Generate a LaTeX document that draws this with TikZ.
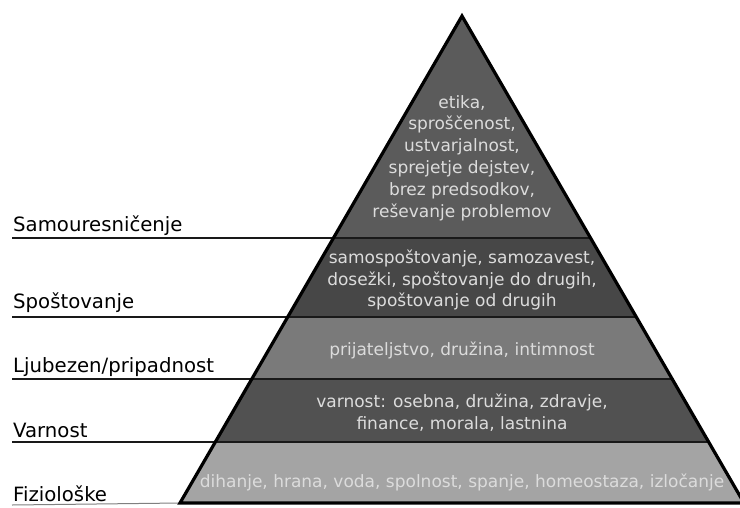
\documentclass[tikz,border=0pt]{standalone}
\usepackage{fontspec}
\setmainfont{DejaVu Sans}
\usetikzlibrary{calc, positioning}

\definecolor{topgray}{HTML}{5B5B5B}
\definecolor{esteemgray}{HTML}{474747}
\definecolor{lovegray}{HTML}{7A7A7A}
\definecolor{safegray}{HTML}{515151}
\definecolor{basegray}{HTML}{A4A4A4}
\definecolor{textgray}{HTML}{DCDCDC}

\begin{document}
\begin{tikzpicture}[
    x=1pt, y=-1pt,
    level/.style={draw=black!90, line width=1.6pt},
    lbl/.style={anchor=base west, inner sep=0pt, font=\fontsize{19.7}{23}\selectfont},
    inside/.style={align=center, text=textgray, inner sep=0pt, font=\fontsize{17}{21.8}\selectfont},
    outline/.style={draw=black, line width=3.2pt, line join=miter}
]
   \useasboundingbox (0,0) rectangle (740,507);

   % Corners of the pyramid
   \coordinate (apex) at (462,16);
   \coordinate (bl) at (180,503);
   \coordinate (br) at (744,503);

   % Level borders on both slopes
   \coordinate (l1) at ($(apex)!0.4559!(bl)$);
   \coordinate (r1) at ($(apex)!0.4559!(br)$);
   \coordinate (l2) at ($(apex)!0.6181!(bl)$);
   \coordinate (r2) at ($(apex)!0.6181!(br)$);
   \coordinate (l3) at ($(apex)!0.7454!(bl)$);
   \coordinate (r3) at ($(apex)!0.7454!(br)$);
   \coordinate (l4) at ($(apex)!0.8747!(bl)$);
   \coordinate (r4) at ($(apex)!0.8747!(br)$);

   % Left ends of the label rules
   \coordinate (s1) at (12,238);
   \coordinate (s2) at (12,317);
   \coordinate (s3) at (12,379);
   \coordinate (s4) at (12,442);
   \coordinate (s5) at (12,505);

   % Layers
   \fill[topgray]    (apex) -- (l1) -- (r1) -- cycle;
   \fill[esteemgray] (l1) -- (l2) -- (r2) -- (r1) -- cycle;
   \fill[lovegray]   (l2) -- (l3) -- (r3) -- (r2) -- cycle;
   \fill[safegray]   (l3) -- (l4) -- (r4) -- (r3) -- cycle;
   \fill[basegray]   (l4) -- (bl) -- (br) -- (r4) -- cycle;

   % Rules under the labels, running through the pyramid
   \draw[level] (s1) -- (r1);
   \draw[level] (s2) -- (r2);
   \draw[level] (s3) -- (r3);
   \draw[level] (s4) -- (r4);
   \draw[gray, line width=1pt] (s5) -- (bl);

   \draw[outline] (apex) -- (bl) -- (br) -- cycle;

   % Labels on the left
   \node[lbl] (samo)  at (13,231) {Samouresničenje};
   \node[lbl] (spost) at (13,308) {Spoštovanje};
   \node[lbl] (ljub)  at (13,372) {Ljubezen/pripadnost};
   \node[lbl] (varn)  at (13,437) {Varnost};
   \node[lbl] (fizio) at (13,501) {Fiziološke};

   % Texts inside the layers
   \node[inside] (toptext) at (462,158) {etika,\\sproščenost,\\ustvarjalnost,\\sprejetje dejstev,\\brez predsodkov,\\reševanje problemov};
   \node[inside] (esteemtext) at (462,280) {samospoštovanje, samozavest,\\dosežki, spoštovanje do drugih,\\spoštovanje od drugih};
   \node[inside] (lovetext) at (462,350) {prijateljstvo, družina, intimnost};
   \node[inside] (safetext) at (462,413) {varnost: osebna, družina, zdravje,\\finance, morala, lastnina};
   \node[inside] (basetext) at (462,482) {dihanje, hrana, voda, spolnost, spanje, homeostaza, izločanje};

\end{tikzpicture}
\end{document}
